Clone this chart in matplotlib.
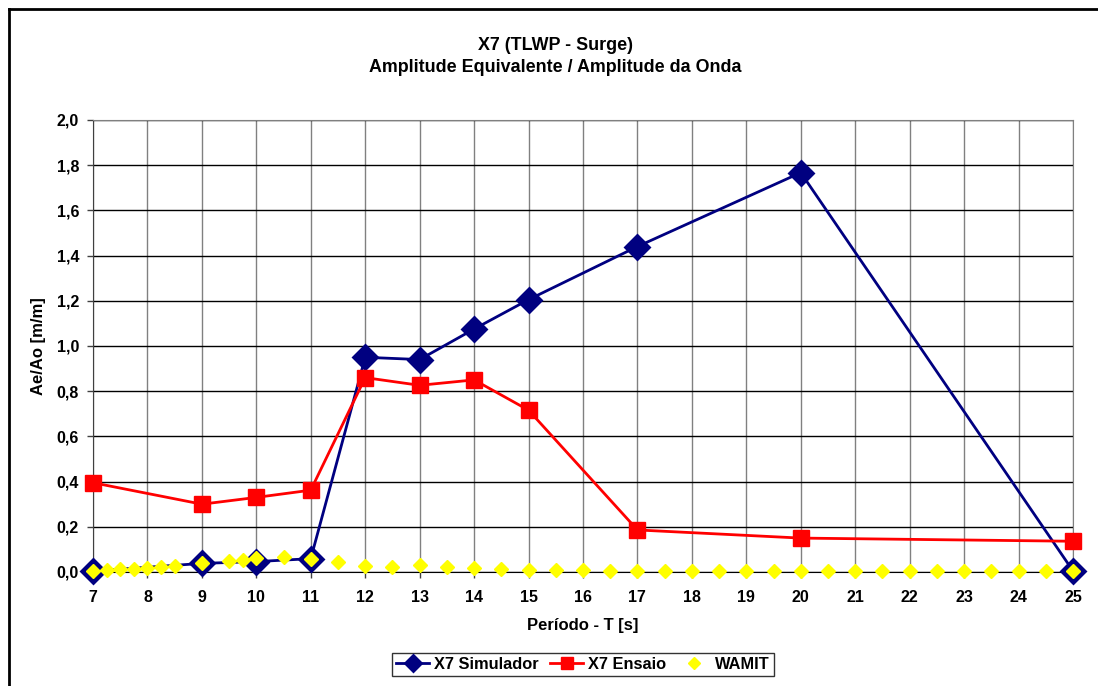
import matplotlib.pyplot as plt
from matplotlib.lines import Line2D
from matplotlib.ticker import FuncFormatter, MultipleLocator

plt.rcParams['font.family'] = ['Liberation Sans', 'DejaVu Sans']
plt.rcParams['font.weight'] = 'bold'

# Períodos ensaiados e resultados
periodos = [7, 9, 10, 11, 12, 13, 14, 15, 17, 20, 25]
simulador = [0.004, 0.038, 0.046, 0.059, 0.95, 0.94, 1.075, 1.205, 1.44, 1.767, 0.005]
ensaio = [0.395, 0.30, 0.33, 0.362, 0.86, 0.826, 0.85, 0.716, 0.186, 0.15, 0.136]

# Curva WAMIT (malha mais fina)
t_wamit = [7, 7.25, 7.5, 7.75, 8, 8.25, 8.5, 9, 9.5, 9.75, 10, 10.5, 11, 11.5,
           12, 12.5, 13, 13.5, 14, 14.5, 15, 15.5, 16, 16.5, 17, 17.5, 18,
           18.5, 19, 19.5, 20, 20.5, 21, 21.5, 22, 22.5, 23, 23.5, 24, 24.5, 25]
wamit = [0.004, 0.009, 0.012, 0.015, 0.019, 0.022, 0.025, 0.038, 0.047, 0.053,
         0.062, 0.065, 0.059, 0.044, 0.028, 0.022, 0.032, 0.022, 0.016, 0.012,
         0.009, 0.007, 0.007, 0.006, 0.006, 0.006, 0.006, 0.006, 0.006, 0.006,
         0.006, 0.006, 0.006, 0.006, 0.006, 0.006, 0.006, 0.006, 0.006, 0.006,
         0.006]

fig = plt.figure(figsize=(10.98, 6.86), dpi=100)
ax = fig.add_axes([0.0847, 0.1662, 0.8925, 0.6589])

ax.plot(periodos, simulador, color='#000080', lw=2.0, marker='D', ms=12.5,
        mfc='#000080', mec='#000080', mew=2.0, label='X7 Simulador', zorder=3,
        clip_on=False)
ax.plot(periodos, ensaio, color='#FF0000', lw=2.0, marker='s', ms=12,
        mfc='#FF0000', mec='#FF0000', label='X7 Ensaio', zorder=4, clip_on=False)
ax.plot(t_wamit, wamit, ls='none', marker='D', ms=7, mfc='#FFFF00',
        mec='#FFFF00', label='WAMIT', zorder=5, clip_on=False)

ax.set_xlim(7, 25)
ax.set_ylim(0, 2.0)
ax.xaxis.set_major_locator(MultipleLocator(1))
ax.yaxis.set_major_locator(MultipleLocator(0.2))
ax.yaxis.set_major_formatter(FuncFormatter(lambda v, p: f'{v:.1f}'.replace('.', ',')))

ax.grid(axis='x', color='#808080', lw=1.0, zorder=0)
ax.grid(axis='y', color='black', lw=1.0, zorder=0)
ax.set_axisbelow(True)

for s in ['top', 'right']:
    ax.spines[s].set_color('#808080')
ax.spines['left'].set_color('#404040')
ax.spines['bottom'].set_color('black')
ax.tick_params(axis='both', direction='out', length=4, width=1, color='#404040',
               labelsize=11.5)
ax.tick_params(axis='x', pad=9)
ax.tick_params(axis='y', pad=6)
for lbl in ax.get_xticklabels() + ax.get_yticklabels():
    lbl.set_fontweight('bold')

ax.set_xlabel('Período - T [s]', fontsize=12, fontweight='bold', labelpad=9)
ax.set_ylabel('Ae/Ao [m/m]', fontsize=12, fontweight='bold', labelpad=8)

fig.text(0.506, 0.934, 'X7 (TLWP - Surge)', ha='center', va='center',
         fontsize=12.9, fontweight='bold')
fig.text(0.506, 0.901, 'Amplitude Equivalente / Amplitude da Onda', ha='center',
         va='center', fontsize=12.9, fontweight='bold')

leg = fig.legend(loc='center', bbox_to_anchor=(0.531, 0.031), ncol=3,
                 fontsize=11.8, frameon=True, fancybox=False, handlelength=2.0,
                 columnspacing=0.7, handletextpad=0.3, borderpad=0.25)
leg.get_frame().set_edgecolor('black')
leg.get_frame().set_linewidth(1.0)
for t in leg.get_texts():
    t.set_fontweight('bold')
for h, ms in zip(leg.legend_handles, [8, 8.5, 6.5]):
    h.set_markersize(ms)

# moldura do gráfico (esquerda e topo)
fig.add_artist(Line2D([0.0078, 0.0078], [0.0, 0.987], color='black', lw=2.0))
fig.add_artist(Line2D([0.0078, 1.0], [0.987, 0.987], color='black', lw=2.0))

fig.savefig('out.png', dpi=100)
